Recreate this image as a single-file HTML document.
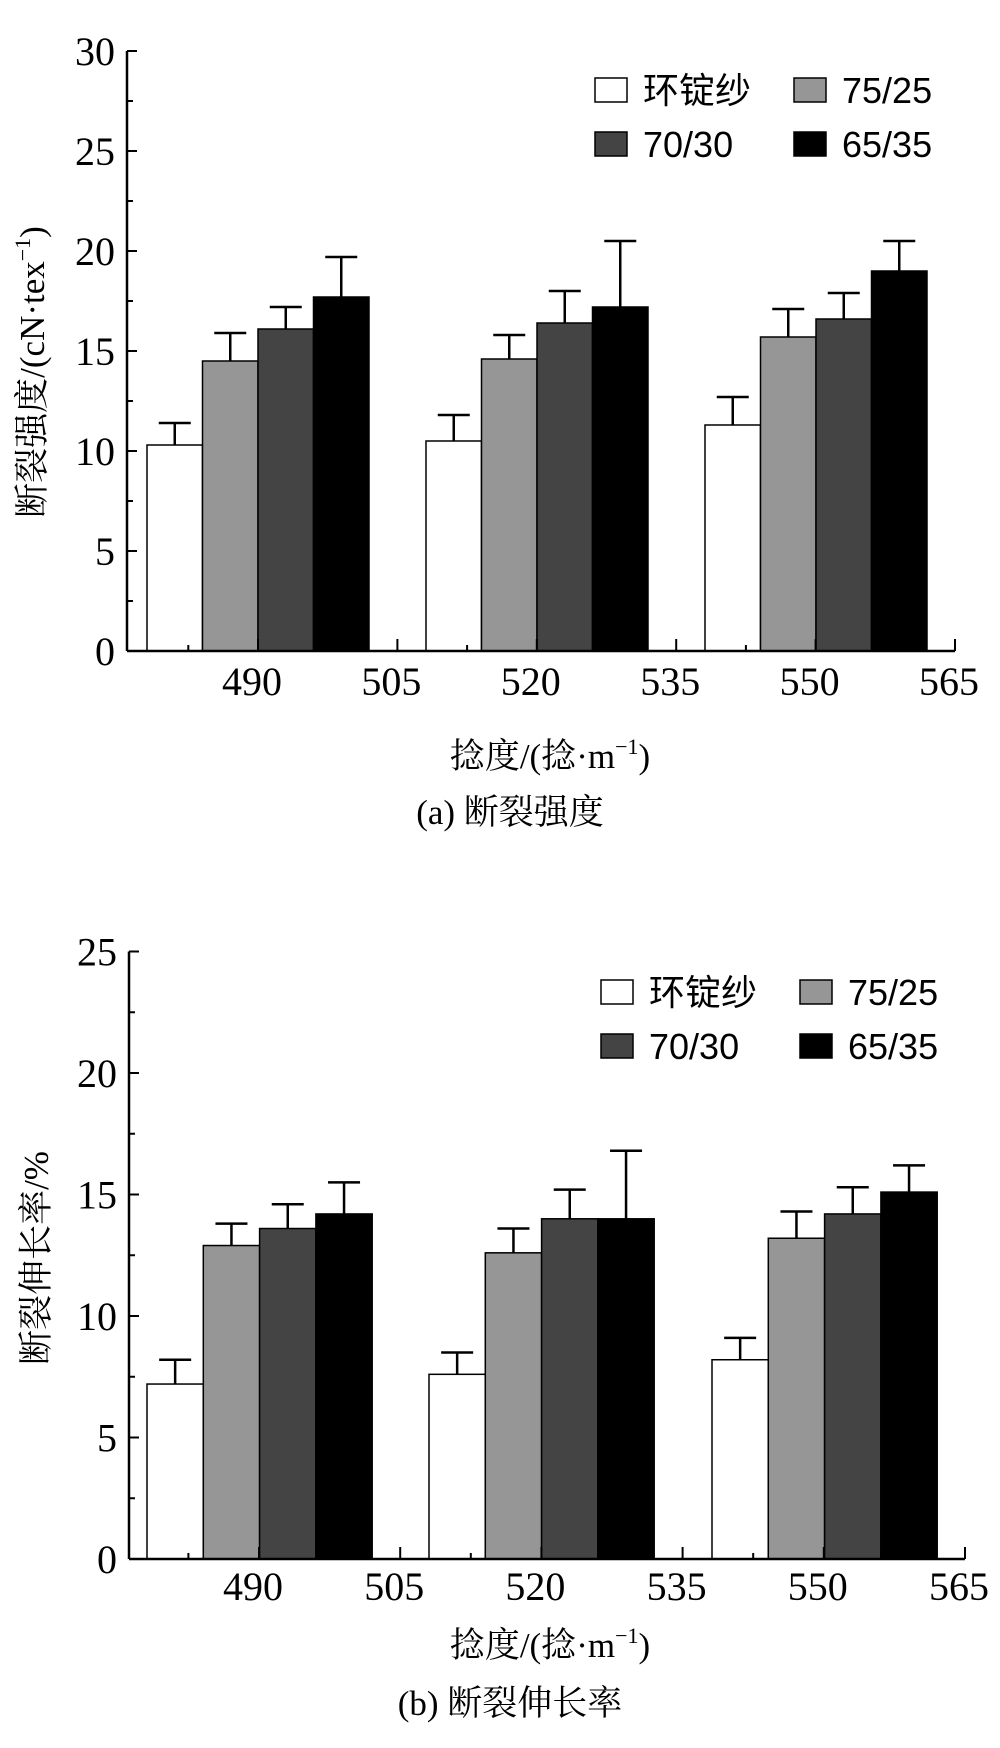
<!DOCTYPE html>
<html><head><meta charset="utf-8"><style>
html,body{margin:0;padding:0;background:#fff;}
svg{display:block;}
</style></head><body>
<svg id="s" width="1000" height="1748" xmlns="http://www.w3.org/2000/svg"></svg>
<script>
var s=document.getElementById('s');var out='';
var serif="font-family:'Liberation Serif','Noto Serif CJK SC',serif;";
var sans="font-family:'Liberation Sans','Noto Sans CJK SC',sans-serif;";
var fills=['#ffffff','#969696','#444444','#000000'];
var sup='<tspan dy="-14" style="font-size:22px">−1</tspan><tspan dy="14">)</tspan>';
function chart(o){
  var ax=o.ax, y0=o.y0, ppu=o.ppu, r='';
  var Y=function(v){return y0-v*ppu;};
  for(var g=0;g<3;g++){
    for(var i=0;i<4;i++){
      var x=o.gx[g]+i*o.bw, v=o.vals[g][i], e=o.errs[g][i], cx=x+o.bw/2;
      r+='<rect x="'+x+'" y="'+Y(v)+'" width="'+o.bw+'" height="'+(v*ppu)+'" fill="'+fills[i]+'" stroke="#000" stroke-width="1.5"/>';
      r+='<line x1="'+cx+'" y1="'+Y(v)+'" x2="'+cx+'" y2="'+Y(e)+'" stroke="#000" stroke-width="2.5"/>';
      r+='<line x1="'+(cx-16)+'" y1="'+Y(e)+'" x2="'+(cx+16)+'" y2="'+Y(e)+'" stroke="#000" stroke-width="2.5"/>';
    }
  }
  r+='<line x1="'+ax+'" y1="'+Y(o.ymax)+'" x2="'+ax+'" y2="'+y0+'" stroke="#000" stroke-width="2.5"/>';
  r+='<line x1="'+ax+'" y1="'+y0+'" x2="'+o.xend+'" y2="'+y0+'" stroke="#000" stroke-width="2.5"/>';
  for(var v=0;v<=o.ymax+0.01;v+=2.5){
    var major=(v%5===0);
    r+='<line x1="'+ax+'" y1="'+Y(v)+'" x2="'+(ax+(major?10:6))+'" y2="'+Y(v)+'" stroke="#000" stroke-width="2"/>';
    if(major) r+='<text x="'+(ax-12)+'" y="'+(Y(v)+14)+'" text-anchor="end" style="'+serif+'font-size:40px">'+v+'</text>';
  }
  var labs=['490','505','520','535','550','565'];
  for(var k=0;k<6;k++){
    var tx=o.t0+k*o.ts;
    r+='<line x1="'+tx+'" y1="'+y0+'" x2="'+tx+'" y2="'+(y0-12)+'" stroke="#000" stroke-width="2"/>';
    var mx=tx-o.ts/2;
    r+='<line x1="'+mx+'" y1="'+y0+'" x2="'+mx+'" y2="'+(y0-6)+'" stroke="#000" stroke-width="2"/>';
    r+='<text x="'+(tx-6)+'" y="'+(o.ty)+'" text-anchor="middle" style="'+serif+'font-size:40px">'+labs[k]+'</text>';
  }
  var L=o.leg;
  var items=[[L.x1,L.r1,'环锭纱',0],[L.x2,L.r1,'75/25',1],[L.x1,L.r2,'70/30',2],[L.x2,L.r2,'65/35',3]];
  items.forEach(function(it){
    r+='<rect x="'+it[0]+'" y="'+it[1]+'" width="32" height="24" fill="'+fills[it[3]]+'" stroke="#000" stroke-width="1.5"/>';
    r+='<text x="'+(it[0]+48)+'" y="'+(it[1]+25)+'" style="'+sans+'font-size:36px">'+it[2]+'</text>';
  });
  r+='<text transform="translate('+o.ylx+','+o.yly+') rotate(-90)" text-anchor="middle" style="'+serif+'font-size:35px">'+o.ylab+'</text>';
  r+='<text x="550" y="'+o.xly+'" text-anchor="middle" style="'+serif+'font-size:35px">捻度/(捻·m'+sup+'</text>';
  r+='<text x="510" y="'+o.cy+'" text-anchor="middle" style="'+serif+'font-size:35px">'+o.cap+'</text>';
  return r;
}
out+=chart({ax:127,y0:651,ppu:20,ymax:30,xend:955,bw:55.5,gx:[147,426,705],
 vals:[[10.3,14.5,16.1,17.7],[10.5,14.6,16.4,17.2],[11.3,15.7,16.6,19.0]],
 errs:[[11.4,15.9,17.2,19.7],[11.8,15.8,18.0,20.5],[12.7,17.1,17.9,20.5]],
 t0:258,ts:139.4,ty:695,leg:{x1:595,x2:794,r1:78,r2:132},
 ylx:44,yly:372,ylab:'断裂强度/(cN·tex'+sup,
 xly:768,cy:824,cap:'(a) 断裂强度'});
out+=chart({ax:129,y0:1559,ppu:24.3,ymax:25,xend:965,bw:56.3,gx:[147,429,712],
 vals:[[7.2,12.9,13.6,14.2],[7.6,12.6,14.0,14.0],[8.2,13.2,14.2,15.1]],
 errs:[[8.2,13.8,14.6,15.5],[8.5,13.6,15.2,16.8],[9.1,14.3,15.3,16.2]],
 t0:259,ts:141.2,ty:1600,leg:{x1:601,x2:800,r1:980,r2:1034},
 ylx:48,yly:1258,ylab:'断裂伸长率/%',
 xly:1657,cy:1715,cap:'(b) 断裂伸长率'});
s.innerHTML=out;
</script>
</body></html>
